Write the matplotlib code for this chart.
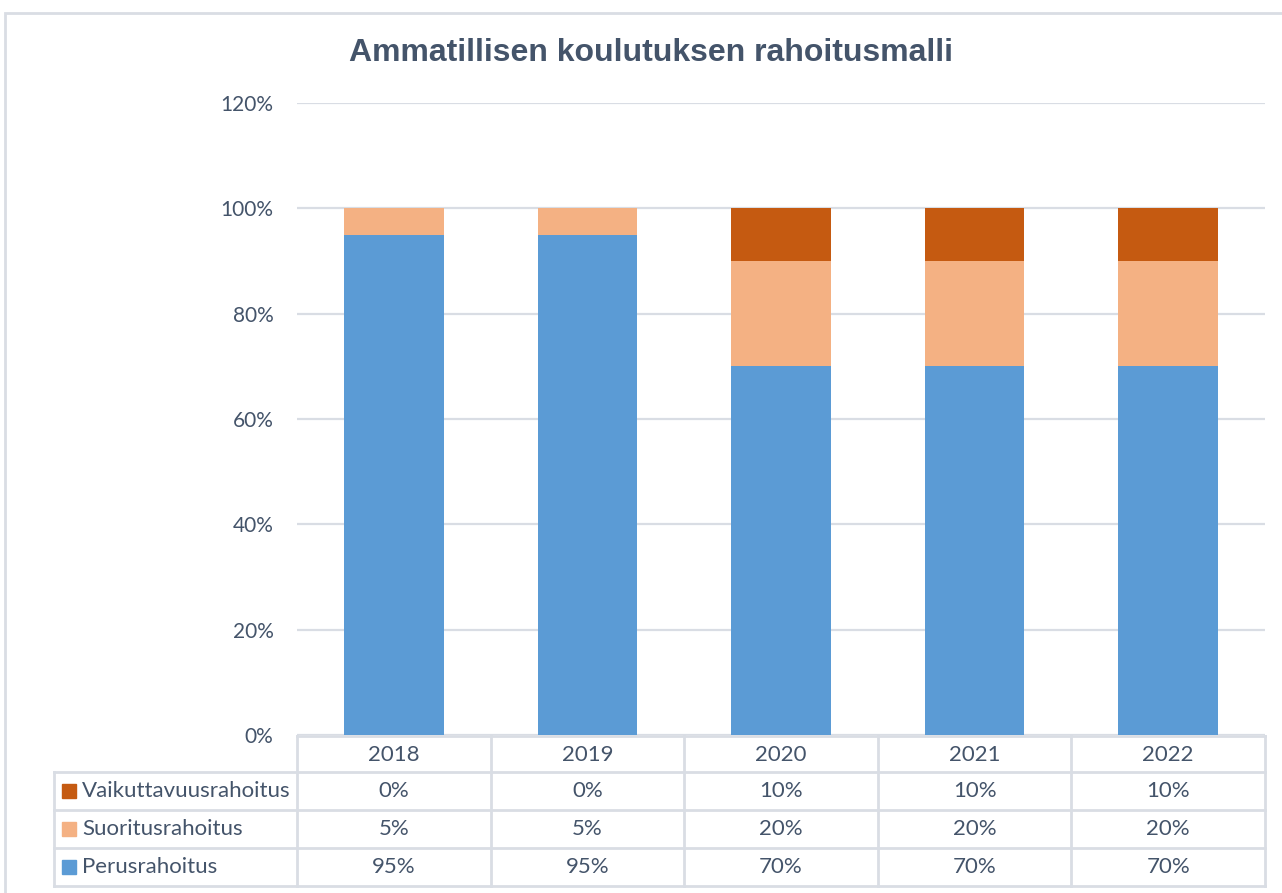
import matplotlib.pyplot as plt
from matplotlib.lines import Line2D
from matplotlib.patches import Rectangle

# data
years = ['2018', '2019', '2020', '2021', '2022']
series_names = ['Perusrahoitus', 'Suoritusrahoitus', 'Vaikuttavuusrahoitus']
perus = [95, 95, 70, 70, 70]
suoritus = [5, 5, 20, 20, 20]
vaikuttavuus = [0, 0, 10, 10, 10]
yticks = [0, 20, 40, 60, 80, 100, 120]

colors = ['#5B9BD5', '#F4B183', '#C55A11']
text_col = '#44546A'
line_col = '#D9DDE4'

W, H = 1282, 893
fig = plt.figure(figsize=(W / 100, H / 100), dpi=100)

def fx(px):
    return px / W

def fy(py):
    return 1 - py / H

# outer frame of the chart object
fig.add_artist(Rectangle((fx(5), fy(1000)), fx(1400), fy(13) - fy(1000),
                         transform=fig.transFigure, fill=False,
                         edgecolor='#D9DDE4', linewidth=2))

x0, x1 = 297, 1265
y_top, y_bot = 103, 735
ax = fig.add_axes([fx(x0), fy(y_bot), fx(x1) - fx(x0), fy(y_top) - fy(y_bot)])

xpos = list(range(len(years)))
values = [perus, suoritus, vaikuttavuus]
bottom = [0] * len(years)
for vals, c in zip(values, colors):
    ax.bar(xpos, vals, bottom=bottom, width=0.515, color=c, zorder=3)
    bottom = [b + v for b, v in zip(bottom, vals)]

ax.set_xlim(-0.5, len(years) - 0.5)
ax.set_ylim(0, 120)
ax.set_yticks(yticks)
ax.set_yticklabels([f'{t}%' for t in yticks])
ax.set_xticks([])
ax.tick_params(axis='y', length=0, pad=17, labelsize=15, labelcolor=text_col)
for lab in ax.get_yticklabels():
    lab.set_family('Lato')
ax.grid(axis='y', color=line_col, linewidth=1.6, zorder=0)
for s in ax.spines.values():
    s.set_visible(False)

fig.text(fx(651), fy(53), 'Ammatillisen koulutuksen rahoitusmalli',
         ha='center', va='center', fontsize=23, fontweight='bold',
         color=text_col, family='Liberation Sans')

# data table under the plot
col_w = (x1 - x0) / len(years)
col_edges = [x0 + i * col_w for i in range(len(years) + 1)]
row_edges = [736, 772, 810, 848, 886]
tab_left = 54

def hline(y, xa, xb):
    fig.add_artist(Line2D([fx(xa), fx(xb)], [fy(y), fy(y)], transform=fig.transFigure,
                          color=line_col, linewidth=2))

def vline(x, ya, yb):
    fig.add_artist(Line2D([fx(x), fx(x)], [fy(ya), fy(yb)], transform=fig.transFigure,
                          color=line_col, linewidth=2))

hline(row_edges[0], x0, x1)
for y in row_edges[1:]:
    hline(y, tab_left, x1)
for x in col_edges:
    vline(x, row_edges[0], row_edges[-1])
vline(tab_left, row_edges[1], row_edges[-1])

for i, yr in enumerate(years):
    cx = (col_edges[i] + col_edges[i + 1]) / 2
    fig.text(fx(cx), fy((row_edges[0] + row_edges[1]) / 2 + 1), yr, ha='center', va='center',
             fontsize=16, color=text_col, family='Lato')

table_rows = list(zip(series_names, values, colors))[::-1]
for r, (name, vals, c) in enumerate(table_rows):
    cy = (row_edges[r + 1] + row_edges[r + 2]) / 2
    fig.add_artist(Rectangle((fx(62), fy(cy + 7)), fx(14), fy(cy - 7) - fy(cy + 7),
                             transform=fig.transFigure, color=c))
    fig.text(fx(82), fy(cy), name, ha='left', va='center', fontsize=16,
             color=text_col, family='Lato')
    for i, v in enumerate(vals):
        cx = (col_edges[i] + col_edges[i + 1]) / 2
        fig.text(fx(cx), fy(cy), f'{v}%', ha='center', va='center', fontsize=16,
                 color=text_col, family='Lato')

plt.savefig('out.png', dpi=100)
